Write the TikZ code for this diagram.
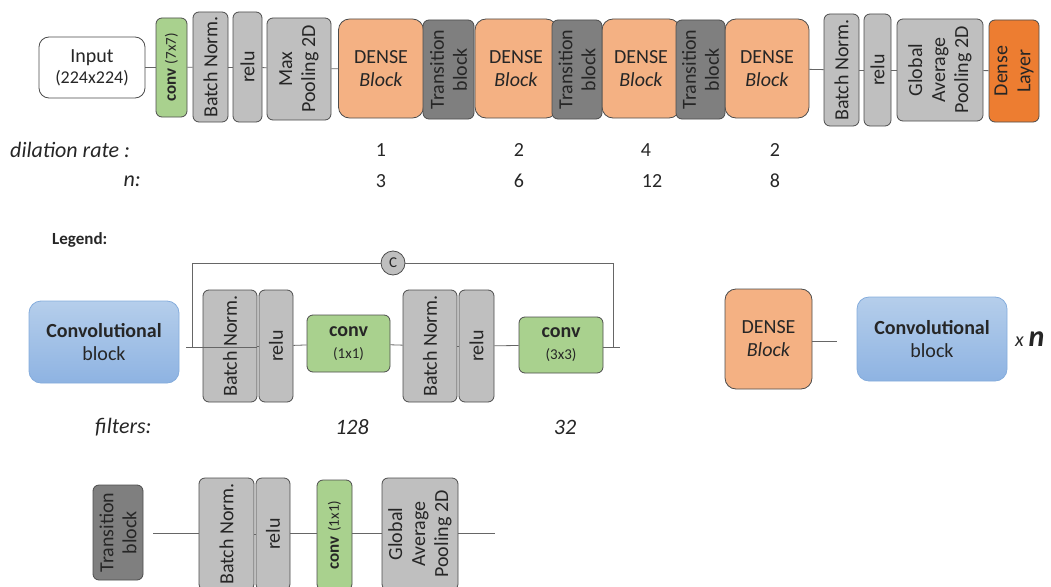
\documentclass[tikz,border=0pt]{standalone}
\usepackage{fontspec}
\setmainfont{Carlito}
\usetikzlibrary{positioning}

\definecolor{denseor}{HTML}{F4B183}
\definecolor{transgr}{HTML}{7F7F7F}
\definecolor{lightgr}{HTML}{BFBFBF}
\definecolor{convgr}{HTML}{A9D18E}
\definecolor{layeror}{HTML}{ED7D31}
\definecolor{txtgr}{HTML}{262626}
\definecolor{blueA}{HTML}{B5CEEB}
\definecolor{blueB}{HTML}{8EB3E2}
\definecolor{blueline}{HTML}{84ACDC}

\begin{document}
\begin{tikzpicture}[
        x=1pt, y=-1pt,
        box/.style={draw=black!70, line width=0.8pt, rounded corners=6pt, inner sep=0pt,
                    align=center, text=txtgr, font=\fontsize{20}{23}\selectfont},
        dense/.style={box, fill=denseor, rounded corners=11pt},
        trans/.style={box, fill=transgr, rotate=90},
        gray/.style={box, fill=lightgr},
        vgray/.style={gray, rotate=90},
        conv/.style={box, fill=convgr},
        cblock/.style={box, draw=blueline, top color=blueA, bottom color=blueB, rounded corners=12pt},
        lbl/.style={text=txtgr, inner sep=0pt, font=\fontsize{20}{23}\selectfont},
        link/.style={draw=black!60, line width=0.8pt}
        ]
        \useasboundingbox (0,0) rectangle (1051,586);

        % Main network
        \node[box, fill=white, minimum width=106, minimum height=61, rounded corners=10pt] (In) at (92,67.5)
            {Input\\[-2pt]{\fontsize{18}{21}\selectfont (224x224)}};
        \node[conv, rotate=90, minimum width=99, minimum height=31] (C7) at (171.5,67.5)
            {{\fontsize{17}{19}\selectfont\bfseries conv} {\fontsize{15}{17}\selectfont(7x7)}};
        \node[vgray, minimum width=110, minimum height=35] (BN1) at (210.5,67) {Batch Norm.};
        \node[vgray, minimum width=110, minimum height=29] (R1) at (247.5,67) {relu};
        \node[vgray, minimum width=102, minimum height=64] (MP) at (299,69) {Max\\Pooling 2D};

        \node[dense, minimum width=85, minimum height=99] (D1) at (381,68.5) {DENSE\\\textit{Block}};
        \node[dense, minimum width=82, minimum height=99] (D2) at (516,68.5) {DENSE\\\textit{Block}};
        \node[dense, minimum width=78, minimum height=99] (D3) at (641,68.5) {DENSE\\\textit{Block}};
        \node[dense, minimum width=84, minimum height=99] (D4) at (767,68.5) {DENSE\\\textit{Block}};
        \node[trans, minimum width=99, minimum height=51] (T1) at (448.5,69.5) {Transition\\block};
        \node[trans, minimum width=99, minimum height=50] (T2) at (577,69.5) {Transition\\block};
        \node[trans, minimum width=99, minimum height=49] (T3) at (700.5,69.5) {Transition\\block};

        \node[vgray, minimum width=112, minimum height=35] (BN2) at (841.5,70) {Batch Norm.};
        \node[vgray, minimum width=112, minimum height=27] (R2) at (877.5,70) {relu};
        \node[vgray, minimum width=102, minimum height=86] (GAP) at (940,70) {Global\\Average\\Pooling 2D};
        \node[box, fill=layeror, rotate=90, minimum width=102, minimum height=50] (DL) at (1014,71) {Dense\\Layer};

        \draw[link] (In) -- (C7);
        \draw[link] (C7) -- (BN1);
        \draw[link] (BN1) -- (R1);
        \draw[link] (R1) -- (MP);
        \draw[link] (MP) -- (D1);
        \draw[link] (D4) -- (BN2);
        \draw[link] (BN2) -- (R2);
        \draw[link] (R2) -- (GAP);
        \draw[link] (GAP) -- (DL);

        % Dilation rates and repeats
        \node[lbl, anchor=west, font=\fontsize{22}{25}\selectfont\itshape] (dil) at (10,150) {dilation rate :};
        \node[lbl, anchor=east, font=\fontsize{22}{25}\selectfont\itshape] (nn) at (141,181) {n:};
        \node[lbl] (dr1) at (381,150) {1};
        \node[lbl] (dr2) at (519,150) {2};
        \node[lbl] (dr3) at (646,150) {4};
        \node[lbl] (dr4) at (775,150) {2};
        \node[lbl] (n1) at (381,181) {3};
        \node[lbl] (n2) at (519,181) {6};
        \node[lbl] (n3) at (652,181) {12};
        \node[lbl] (n4) at (775,181) {8};

        % Legend
        \node[lbl, anchor=west, font=\fontsize{17}{19}\selectfont\bfseries] (leg) at (52,240) {Legend:};

        \node[cblock, minimum width=150, minimum height=82] (LCB) at (104,342) {\textbf{Convolutional}\\block};
        \coordinate (lin) at (186,347);
        \coordinate (ltap) at (192,347);
        \coordinate (rtap) at (613,347);
        \coordinate (lout) at (620,347);
        \node[vgray, minimum width=112, minimum height=54] (LBN1) at (230,346) {Batch Norm.};
        \node[vgray, minimum width=112, minimum height=34] (LR1) at (276,346) {relu};
        \node[conv, minimum width=83, minimum height=57] (LC1) at (348.5,343.5)
            {\textbf{conv}\\[-1pt]{\fontsize{15}{17}\selectfont(1x1)}};
        \node[vgray, minimum width=112, minimum height=54] (LBN2) at (430,346) {Batch Norm.};
        \node[vgray, minimum width=112, minimum height=35] (LR2) at (476.5,346) {relu};
        \node[conv, minimum width=84, minimum height=56] (LC3) at (561,345)
            {\textbf{conv}\\[-1pt]{\fontsize{15}{17}\selectfont(3x3)}};
        \node[gray, circle, minimum size=24, font=\fontsize{15}{17}\selectfont] (cat) at (393,263) {C};

        \draw[link] (lin) -- (LBN1.south |- lin);
        \draw[link] (LBN1) -- (LR1);
        \draw[link] (LR1) -- (LC1);
        \draw[link] (LC1) -- (LBN2);
        \draw[link] (LBN2) -- (LR2);
        \draw[link] (LR2) -- (LC3);
        \draw[link] (LC3.east |- lout) -- (lout);
        \draw[link] (ltap) |- (cat.west);
        \draw[link] (cat.east) -| (rtap);

        \node[lbl, anchor=west, font=\fontsize{22}{25}\selectfont\itshape] (filt) at (95,427) {filters:};
        \node[lbl, font=\fontsize{22}{25}\selectfont\itshape] (f1) at (352,427) {128};
        \node[lbl, font=\fontsize{22}{25}\selectfont\itshape] (f2) at (565,427) {32};

        % Dense block legend
        \node[dense, minimum width=87, minimum height=100] (LD) at (768.5,339) {DENSE\\\textit{Block}};
        \coordinate (ldout) at (837,341);
        \draw[link] (LD.east |- ldout) -- (ldout);
        \node[cblock, minimum width=150, minimum height=84] (LCB2) at (932,339) {\textbf{Convolutional}\\block};
        \node[lbl, anchor=west] (xn) at (1015,339) {\textit{x} {\fontsize{30}{32}\selectfont\bfseries\itshape n}};

        % Transition block legend
        \node[trans, minimum width=95, minimum height=50] (LT) at (118,532.5) {Transition\\block};
        \coordinate (ltin) at (153,533);
        \coordinate (ltout) at (495,533);
        \node[vgray, minimum width=112, minimum height=55] (TBN) at (226.5,534) {Batch Norm.};
        \node[vgray, minimum width=112, minimum height=34] (TR) at (273,534) {relu};
        \node[conv, rotate=90, minimum width=110, minimum height=35] (TC) at (334.5,535)
            {{\fontsize{17}{19}\selectfont\bfseries conv} {\fontsize{15}{17}\selectfont(1x1)}};
        \node[vgray, minimum width=112, minimum height=76] (TGAP) at (420,534) {Global\\Average\\Pooling 2D};

        \draw[link] (ltin) -- (TBN.north |- ltin);
        \draw[link] (TBN) -- (TR);
        \draw[link] (TR.south |- ltin) -- (TC.north |- ltin);
        \draw[link] (TC.south |- ltin) -- (TGAP.north |- ltin);
        \draw[link] (TGAP.south |- ltout) -- (ltout);

    \end{tikzpicture}
\end{document}
